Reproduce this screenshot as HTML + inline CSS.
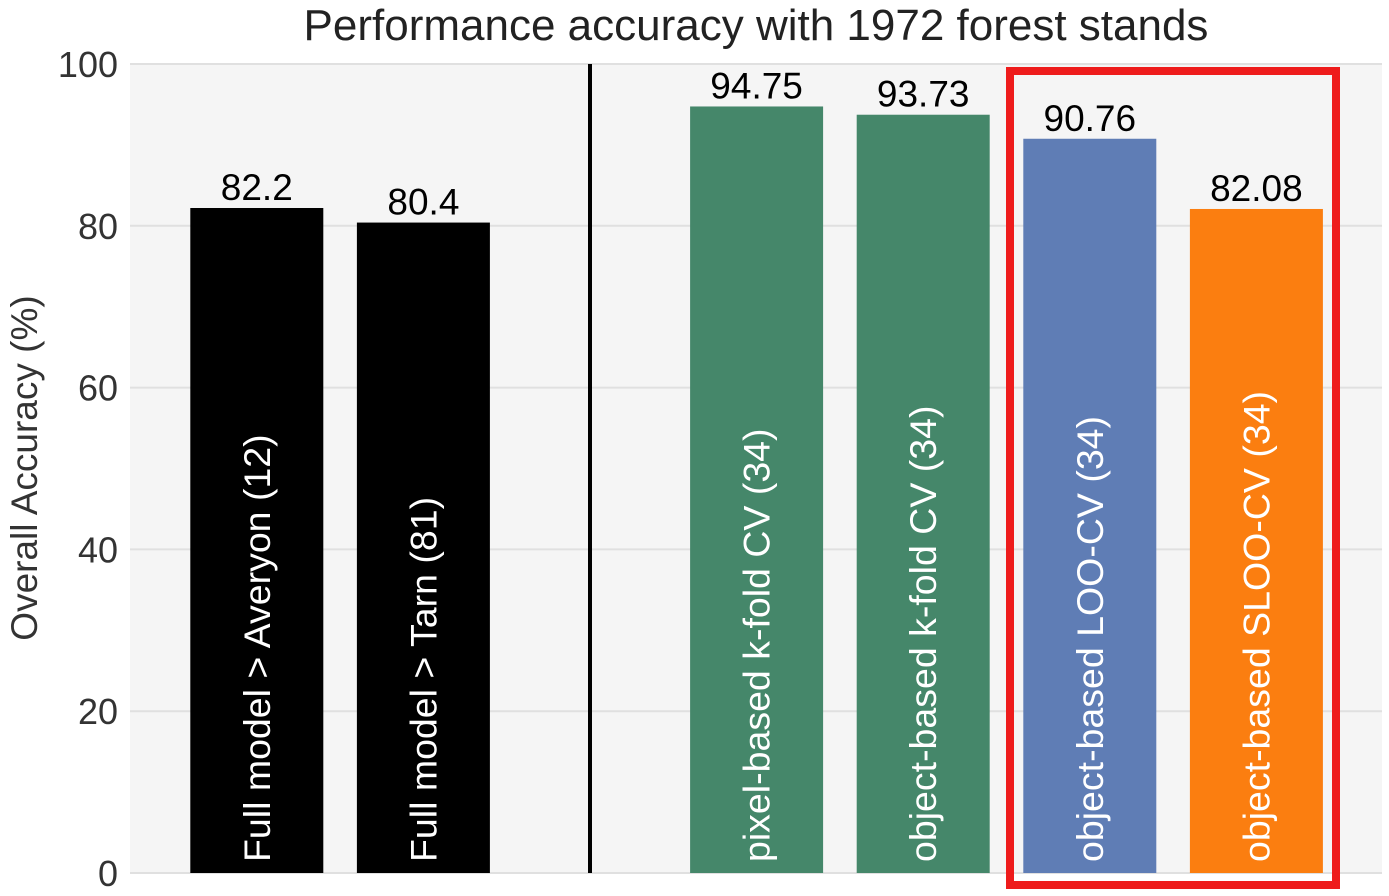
<!DOCTYPE html>
<html><head><meta charset="utf-8"><style>
body{margin:0;background:#fff;}
svg{display:block;font-family:"Liberation Sans",sans-serif;}
</style></head><body>
<svg id="chart" width="1389" height="896">
<text x="756" y="40" font-size="44" text-anchor="middle" fill="#222">Performance accuracy with 1972 forest stands</text>
<rect x="130" y="64" width="1252" height="809" fill="#f5f5f5"/>
<g id="grid"></g>
<g id="bars"></g>
<line x1="590" x2="590" y1="64" y2="873" stroke="#000" stroke-width="4"/>
<rect x="1010" y="71" width="326" height="814" fill="none" stroke="#ee1c1c" stroke-width="8"/>
<text transform="translate(37,468) rotate(-90)" font-size="37" text-anchor="middle" fill="#333">Overall Accuracy (%)</text>
</svg>
<script>
const categories=["Full model > Averyon (12)","Full model > Tarn (81)","","pixel-based k-fold CV (34)","object-based k-fold CV (34)","object-based LOO-CV (34)","object-based SLOO-CV (34)"];
const values=[82.2,80.4,null,94.75,93.73,90.76,82.08];
const valueLabels=["82.2","80.4","","94.75","93.73","90.76","82.08"];
const colors=["#000000","#000000","","#45876a","#45876a","#5f7db5","#fb7e10"];
const yTicks=[0,20,40,60,80,100];
const NS="http://www.w3.org/2000/svg";
const y0=873,y1=64,xL=173.5,step=166.6,bw=133;
const y=v=>y0-(v/100)*(y0-y1);
const xc=i=>xL+step*(i+0.5);
const grid=document.getElementById('grid'),bars=document.getElementById('bars');
yTicks.forEach(t=>{
 const l=document.createElementNS(NS,'line');
 l.setAttribute('x1',130);l.setAttribute('x2',1382);l.setAttribute('y1',y(t));l.setAttribute('y2',y(t));
 l.setAttribute('stroke','#e0e0e0');l.setAttribute('stroke-width','2');
 
 
 grid.appendChild(l);
 const tx=document.createElementNS(NS,'text');
 tx.setAttribute('x',118);tx.setAttribute('y',y(t)+13);tx.setAttribute('font-size','36');
 tx.setAttribute('text-anchor','end');tx.setAttribute('fill','#333');tx.textContent=t;
 
 
 grid.appendChild(tx);
});
values.forEach((v,i)=>{
 if(v===null)return;
 const r=document.createElementNS(NS,'rect');
 r.setAttribute('x',xc(i)-bw/2);r.setAttribute('width',bw);r.setAttribute('y',y(v));r.setAttribute('height',y0-y(v));
 r.setAttribute('fill',colors[i]);
 
 
 bars.appendChild(r);
 const vl=document.createElementNS(NS,'text');
 vl.setAttribute('x',xc(i));vl.setAttribute('y',y(v)-8);vl.setAttribute('font-size','37');
 vl.setAttribute('text-anchor','middle');vl.setAttribute('fill','#000');vl.textContent=valueLabels[i];
 
 
 bars.appendChild(vl);
 const cl=document.createElementNS(NS,'text');
 cl.setAttribute('transform',`translate(${xc(i)+13},862) rotate(-90)`);
 cl.setAttribute('font-size','37.5');cl.setAttribute('fill','#fff');cl.textContent=categories[i];
 
 
 bars.appendChild(cl);
});
</script>
</body></html>
